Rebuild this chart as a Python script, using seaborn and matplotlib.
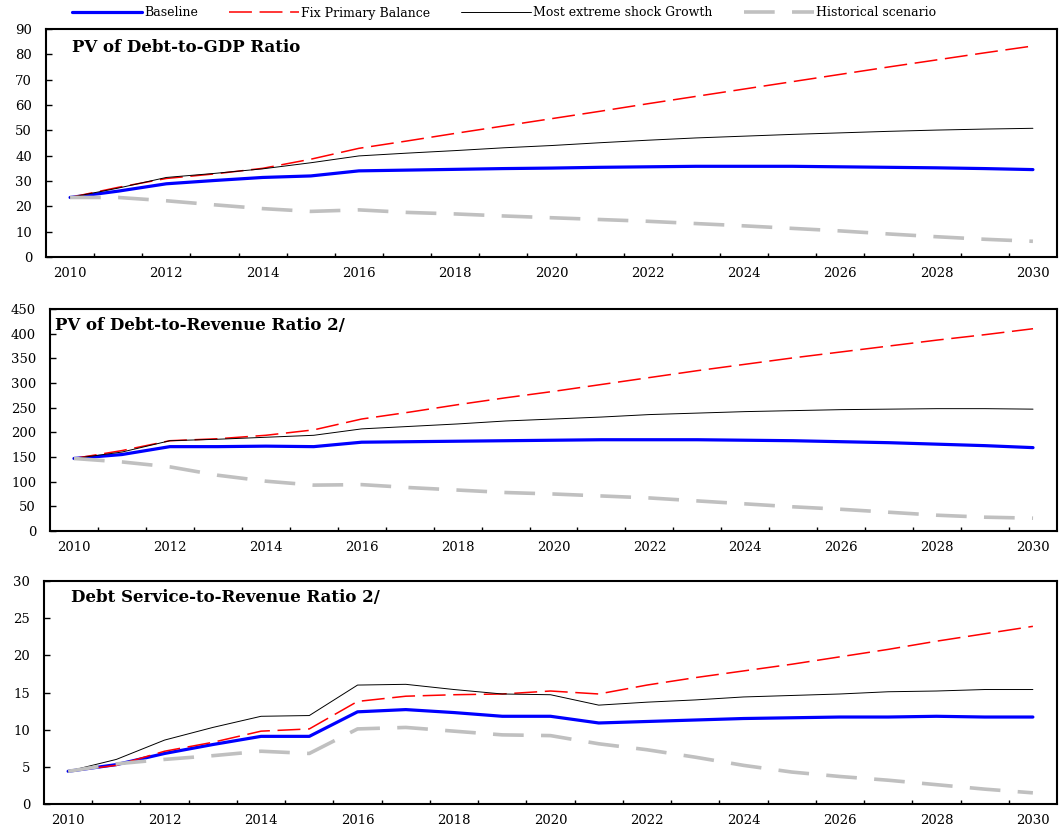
import numpy as np
import pandas as pd
import matplotlib
matplotlib.use("Agg")
import matplotlib.pyplot as plt
from matplotlib.ticker import FixedLocator, NullFormatter
import seaborn as sns

years = list(range(2010, 2031))
series_names = ["Baseline", "Fix Primary Balance", "Most extreme shock Growth", "Historical scenario"]

# Panel 1: PV of Debt-to-GDP Ratio
p1_baseline = [23.5, 26.0, 28.9, 30.2, 31.4, 32.0, 34.0, 34.3, 34.6, 34.9, 35.1, 35.4, 35.6, 35.8, 35.8, 35.8, 35.6, 35.4, 35.2, 34.9, 34.5]
p1_fix = [23.5, 27.5, 31.0, 32.8, 35.0, 38.6, 42.9, 45.8, 48.8, 51.7, 54.6, 57.5, 60.5, 63.4, 66.3, 69.2, 72.1, 75.0, 77.8, 80.6, 83.3]
p1_shock = [23.5, 27.2, 31.4, 33.0, 34.8, 37.2, 39.9, 41.0, 42.0, 43.1, 44.0, 45.1, 46.1, 47.0, 47.7, 48.4, 49.0, 49.6, 50.1, 50.5, 50.8]
p1_hist = [23.5, 23.5, 22.2, 20.6, 19.1, 18.0, 18.6, 17.6, 17.0, 16.2, 15.5, 14.8, 14.1, 13.2, 12.3, 11.3, 10.3, 9.1, 8.0, 7.0, 6.2]

# Panel 2: PV of Debt-to-Revenue Ratio 2/
p2_baseline = [147, 155, 171, 171, 172, 171, 180, 181, 182, 183, 184, 185, 185, 185, 184, 183, 181, 179, 176, 173, 169]
p2_fix = [147, 163, 183, 187, 194, 205, 227, 241, 256, 270, 283, 297, 311, 325, 338, 351, 363, 375, 387, 398, 410]
p2_shock = [147, 160, 183, 186, 190, 194, 207, 212, 217, 223, 227, 231, 236, 239, 242, 244, 246, 247, 248, 248, 247]
p2_hist = [147, 140, 130, 113, 101, 93, 94, 88, 83, 78, 75, 71, 67, 61, 55, 49, 44, 38, 32, 28, 26]

# Panel 3: Debt Service-to-Revenue Ratio 2/
p3_baseline = [4.4, 5.3, 6.8, 8.0, 9.1, 9.1, 12.4, 12.7, 12.3, 11.8, 11.8, 10.9, 11.1, 11.3, 11.5, 11.6, 11.7, 11.7, 11.8, 11.7, 11.7]
p3_fix = [4.4, 5.2, 7.1, 8.3, 9.8, 10.1, 13.8, 14.5, 14.7, 14.8, 15.2, 14.8, 16.0, 17.0, 17.9, 18.8, 19.8, 20.8, 21.9, 22.9, 23.9]
p3_shock = [4.4, 6.0, 8.6, 10.3, 11.8, 11.9, 16.0, 16.1, 15.4, 14.8, 14.7, 13.3, 13.7, 14.0, 14.4, 14.6, 14.8, 15.1, 15.2, 15.4, 15.4]
p3_hist = [4.4, 5.4, 6.0, 6.5, 7.1, 6.8, 10.1, 10.3, 9.8, 9.3, 9.2, 8.1, 7.3, 6.3, 5.2, 4.3, 3.7, 3.2, 2.6, 2.0, 1.5]

titles = ["PV of Debt-to-GDP Ratio", "PV of Debt-to-Revenue Ratio 2/", "Debt Service-to-Revenue Ratio 2/"]
ymax = [90, 450, 30]
ystep = [10, 50, 5]
panels = [
    [p1_baseline, p1_fix, p1_shock, p1_hist],
    [p2_baseline, p2_fix, p2_shock, p2_hist],
    [p3_baseline, p3_fix, p3_shock, p3_hist],
]

sns.set_style("white")
plt.rcParams["font.family"] = ["DejaVu Serif"]
plt.rcParams["text.color"] = "black"
plt.rcParams["xtick.color"] = "black"
plt.rcParams["ytick.color"] = "black"
plt.rcParams["xtick.labelcolor"] = "black"
plt.rcParams["ytick.labelcolor"] = "black"

styles = {
    "Baseline": dict(color="#0000FF", lw=2.3, linestyle="-"),
    "Fix Primary Balance": dict(color="#FF0000", lw=1.1, linestyle=(0, (15, 5))),
    "Most extreme shock Growth": dict(color="#000000", lw=0.7, linestyle="-"),
    "Historical scenario": dict(color="#C0C0C0", lw=2.6, linestyle=(0, (8.5, 4.8))),
}

W, H = 1060, 825
fig = plt.figure(figsize=(W / 100, H / 100), dpi=100)

# pixel boxes: left, top, right, bottom
boxes = [(46, 29, 1057, 257), (50, 309, 1057, 531), (44, 581, 1057, 804)]
title_off = [(26, 18), (5, 16), (27, 16)]

pos = np.arange(len(years))
axes = []
for k, (l, t, r, b) in enumerate(boxes):
    ax = fig.add_axes([l / W, 1 - b / H, (r - l) / W, (b - t) / H])
    axes.append(ax)
    df = pd.DataFrame({"pos": np.tile(pos, 4),
                       "value": np.concatenate(panels[k]),
                       "series": np.repeat(series_names, len(years))})
    for name in series_names:
        sub = df[df["series"] == name]
        st = styles[name]
        sns.lineplot(data=sub, x="pos", y="value", ax=ax, color=st["color"],
                     linewidth=st["lw"], linestyle=st["linestyle"], label=name,
                     legend=False)
    ax.set_xlim(-0.5, len(years) - 0.5)
    ax.set_ylim(0, ymax[k])
    ax.set_yticks(np.arange(0, ymax[k] + 1, ystep[k]))
    ax.set_xticks(pos[::2])
    ax.set_xticklabels([str(y) for y in years[::2]])
    ax.xaxis.set_minor_locator(FixedLocator(pos[:-1] + 0.5))
    ax.xaxis.set_minor_formatter(NullFormatter())
    ax.tick_params(axis="x", which="major", length=0, pad=7, labelsize=9.5)
    ax.tick_params(axis="x", which="minor", direction="in", length=3, width=1, color="black", bottom=True)
    ax.tick_params(axis="y", which="major", direction="in", length=4, width=1, color="black", left=True, pad=10, labelsize=9.5)
    ax.set_xlabel("")
    ax.set_ylabel("")
    for sp in ax.spines.values():
        sp.set_visible(True)
        sp.set_color("black")
        sp.set_linewidth(1.5)
    ax.grid(False)
    dx, dy = title_off[k]
    ax.annotate(titles[k], xy=(0, 1), xycoords="axes fraction",
                xytext=(dx * 0.72, -dy * 0.72), textcoords="offset points",
                ha="left", va="center", fontsize=12, fontweight="bold", color="black")

handles, labels = axes[0].get_legend_handles_labels()
fig.legend(handles, labels, loc="center left", bbox_to_anchor=(72 / W, 1 - 13 / H),
           ncol=4, frameon=False, fontsize=9, handlelength=5.6, handletextpad=0.15,
           columnspacing=2.5, borderpad=0, borderaxespad=0)

fig.savefig("out.png", dpi=100)
